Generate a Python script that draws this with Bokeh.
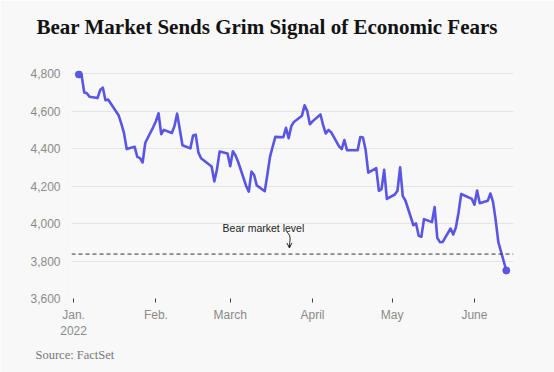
import pandas as pd
from bokeh.plotting import figure
from bokeh.models import (Range1d, FixedTicker, Span, Label, NumeralTickFormatter,
                          Arrow, OpenHead, ColumnDataSource, Title)
from bokeh.embed import file_html
from bokeh.resources import INLINE

# ---- data: S&P 500 daily close, 2022 ----
dates = [
    "2022-01-03", "2022-01-04", "2022-01-05", "2022-01-06", "2022-01-07", "2022-01-10", "2022-01-11",
    "2022-01-12", "2022-01-13", "2022-01-14", "2022-01-18", "2022-01-19", "2022-01-20", "2022-01-21",
    "2022-01-24", "2022-01-25", "2022-01-26", "2022-01-27", "2022-01-28", "2022-01-31",
    "2022-02-01", "2022-02-02", "2022-02-03", "2022-02-04", "2022-02-07", "2022-02-08", "2022-02-09",
    "2022-02-10", "2022-02-11", "2022-02-14", "2022-02-15", "2022-02-16", "2022-02-17", "2022-02-18",
    "2022-02-22", "2022-02-23", "2022-02-24", "2022-02-25", "2022-02-28",
    "2022-03-01", "2022-03-02", "2022-03-03", "2022-03-04", "2022-03-07", "2022-03-08", "2022-03-09",
    "2022-03-10", "2022-03-11", "2022-03-14", "2022-03-15", "2022-03-16", "2022-03-17", "2022-03-18",
    "2022-03-21", "2022-03-22", "2022-03-23", "2022-03-24", "2022-03-25", "2022-03-28", "2022-03-29",
    "2022-03-30", "2022-03-31",
    "2022-04-01", "2022-04-04", "2022-04-05", "2022-04-06", "2022-04-07", "2022-04-08", "2022-04-11",
    "2022-04-12", "2022-04-13", "2022-04-14", "2022-04-18", "2022-04-19", "2022-04-20", "2022-04-21",
    "2022-04-22", "2022-04-25", "2022-04-26", "2022-04-27", "2022-04-28", "2022-04-29",
    "2022-05-02", "2022-05-03", "2022-05-04", "2022-05-05", "2022-05-06", "2022-05-09", "2022-05-10",
    "2022-05-11", "2022-05-12", "2022-05-13", "2022-05-16", "2022-05-17", "2022-05-18", "2022-05-19",
    "2022-05-20", "2022-05-23", "2022-05-24", "2022-05-25", "2022-05-26", "2022-05-27", "2022-05-31",
    "2022-06-01", "2022-06-02", "2022-06-03", "2022-06-06", "2022-06-07", "2022-06-08", "2022-06-09",
    "2022-06-10", "2022-06-13",
]
closes = [
    4796.56, 4793.54, 4700.58, 4696.05, 4677.03, 4670.29, 4713.07,
    4726.35, 4659.03, 4662.85, 4577.11, 4532.76, 4482.73, 4397.94,
    4410.13, 4356.45, 4349.93, 4326.51, 4431.85, 4515.55,
    4546.54, 4589.38, 4477.44, 4500.53, 4483.87, 4521.54, 4587.18,
    4504.08, 4418.64, 4401.67, 4471.07, 4475.01, 4380.26, 4348.87,
    4304.76, 4225.50, 4288.70, 4384.65, 4373.94,
    4306.26, 4386.54, 4363.49, 4328.87, 4201.09, 4170.70, 4277.88,
    4259.52, 4204.31, 4173.11, 4262.45, 4357.86, 4411.67, 4463.12,
    4461.18, 4511.61, 4456.24, 4520.16, 4543.06, 4575.52, 4631.60,
    4602.45, 4530.41,
    4545.86, 4582.64, 4525.12, 4481.15, 4500.21, 4488.28, 4412.53,
    4397.45, 4446.59, 4392.59, 4391.69, 4462.21, 4459.45, 4393.66,
    4271.78, 4296.12, 4175.20, 4183.96, 4287.50, 4131.93,
    4155.38, 4175.48, 4300.17, 4146.87, 4123.34, 3991.24, 4001.05,
    3935.18, 3930.08, 4023.89, 4008.01, 4088.85, 3923.68, 3900.79,
    3901.36, 3973.75, 3941.48, 3978.73, 4057.84, 4158.24, 4132.15,
    4101.23, 4176.82, 4108.54, 4121.43, 4160.68, 4115.77, 4017.82,
    3900.86, 3749.63,
]
bear_level = 3837.25
month_ticks = ["2022-01-01", "2022-02-01", "2022-03-01", "2022-04-01", "2022-05-01", "2022-06-01"]
month_labels = ["Jan.\n2022", "Feb.", "March", "April", "May", "June"]
y_ticks = [3600, 3800, 4000, 4200, 4400, 4600, 4800]

title_text = "Bear Market Sends Grim Signal of Economic Fears"
source_text = "Source: FactSet"
bear_text = "Bear market level"

BG = "#f8f8f8"
LINE = "#5a55e3"

x = pd.to_datetime(dates)
src = ColumnDataSource(dict(x=x, y=closes))

day = pd.Timedelta(days=1)
jan1 = pd.Timestamp("2022-01-01")
x_start = jan1 - 0.79 * day
x_end = x_start + 166.5 * day

p = figure(width=554, height=372, x_axis_type="datetime",
           x_range=Range1d(x_start, x_end), y_range=Range1d(3600, 4817.6),
           output_backend="svg", toolbar_location=None,
           min_border_left=71, min_border_right=41, min_border_top=70, min_border_bottom=74)
p.background_fill_color = BG
p.border_fill_color = BG
p.outline_line_color = None

# spacer between frame and title, then the title above it
p.title = None
p.add_layout(Title(text=" ", text_font_size="22px", standoff=0,
                   text_color=BG), "above")
p.add_layout(Title(text=title_text, align="left", offset=-35, vertical_align="bottom",
                   text_font="Liberation Serif", text_font_style="bold",
                   text_font_size="21px", text_color="#121212", standoff=10), "above")

# grid
p.xgrid.grid_line_color = None
p.ygrid.grid_line_color = "#e4e4e4"
p.ygrid.grid_line_width = 1

# y axis
p.yaxis.ticker = FixedTicker(ticks=y_ticks)
p.yaxis.formatter = NumeralTickFormatter(format="0,0")
p.yaxis.axis_line_color = None
p.yaxis.major_tick_line_color = None
p.yaxis.minor_tick_line_color = None
p.yaxis.major_label_standoff = 5
p.yaxis.major_label_text_font = "Liberation Sans"
p.yaxis.major_label_text_font_size = "12px"
p.yaxis.major_label_text_color = "#8a8a8a"

# x axis
tick_ms = [pd.Timestamp(t).value / 1e6 for t in month_ticks]
p.xaxis.ticker = FixedTicker(ticks=tick_ms)
p.xaxis.major_label_overrides = {t: lab for t, lab in zip(tick_ms, month_labels)}
p.xaxis.axis_line_color = None
p.xaxis.minor_tick_line_color = None
p.xaxis.major_tick_line_color = "#444444"
p.xaxis.major_tick_in = 0
p.xaxis.major_tick_out = 4
p.xaxis.major_label_standoff = 5
p.xaxis.major_label_text_font = "Liberation Sans"
p.xaxis.major_label_text_font_size = "12px"
p.xaxis.major_label_text_color = "#8a8a8a"

# source line below the axis
p.add_layout(Title(text=source_text, align="left", offset=-36, vertical_align="bottom",
                   text_font="Liberation Serif", text_font_style="normal",
                   text_font_size="12.5px", text_color="#777777", standoff=8), "below")

# bear market line
p.add_layout(Span(location=bear_level, dimension="width", line_color="#333333",
                  line_width=1, line_dash="4 3"))

# main line
p.line("x", "y", source=src, line_color=LINE, line_width=2.6, line_join="round")
p.scatter([x[0], x[-1]], [closes[0], closes[-1]], size=7, color=LINE)

# annotation
p.add_layout(Label(x=jan1 + 71.5 * day, y=3975, text=bear_text, text_align="center",
                   text_baseline="alphabetic", text_font="Liberation Sans",
                   text_font_size="10.5px", text_color="#222222"))
ax0 = jan1 + 80.3 * day
p.bezier(x0=[ax0], y0=[3956], x1=[jan1 + 81.3 * day], y1=[3873],
         cx0=[jan1 + 82.3 * day], cy0=[3930], cx1=[jan1 + 81.3 * day], cy1=[3912],
         line_color="#222222", line_width=1)
p.add_layout(Arrow(end=OpenHead(size=5, line_width=1, line_color="#222222"),
                   x_start=jan1 + 81.3 * day, y_start=3880,
                   x_end=jan1 + 81.3 * day, y_end=3870,
                   line_color="#222222", line_width=1))

html = file_html(p, INLINE)
open("out.html", "w").write(html)
